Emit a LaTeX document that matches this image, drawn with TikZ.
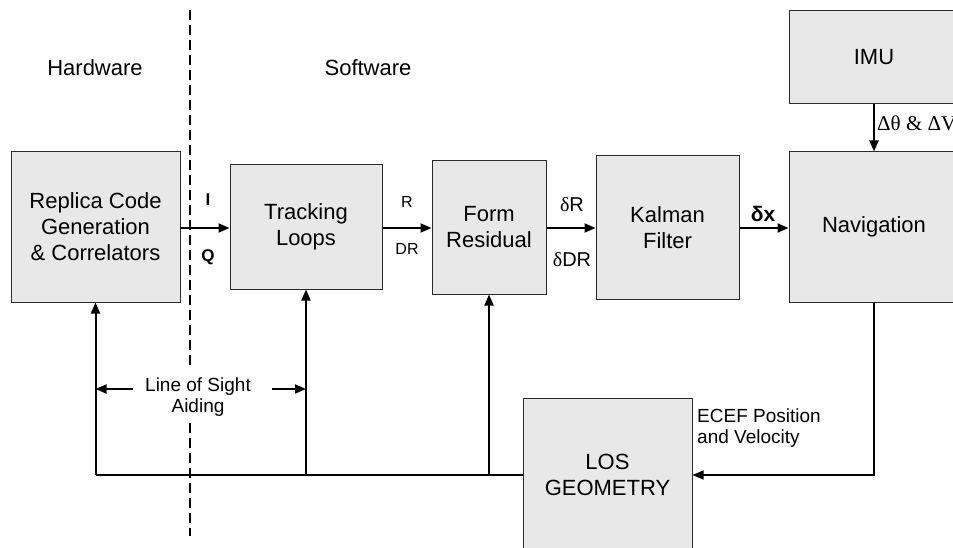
\documentclass[tikz,border=0pt]{standalone}
\usepackage{fontspec}
\setmainfont{Liberation Sans}
\newfontfamily\serifsym{Liberation Serif}
\usetikzlibrary{arrows.meta}

\definecolor{boxfill}{HTML}{E8E8E8}
\definecolor{boxline}{HTML}{2A2A2A}

\tikzset{
  blockbox/.style={draw=boxline, line width=1pt, fill=boxfill, inner sep=0pt,
    align=center, font=\fontsize{22}{26}\selectfont},
  sigtext/.style={inner sep=0pt, font=\fontsize{16}{20}\selectfont},
  sidetext/.style={inner sep=0pt, align=center, font=\fontsize{19}{21}\selectfont},
  headtext/.style={inner sep=0pt, font=\fontsize{22}{26}\selectfont},
  thickarrow/.style={line width=2pt, -{Triangle[length=11pt,width=9pt]}},
  thinline/.style={line width=1.3pt},
  thinarrow/.style={line width=1.3pt, -{Triangle[length=11pt,width=9pt]}},
  boundary/.style={line width=2pt, dash pattern=on 10pt off 5pt}
}

\begin{document}
\begin{tikzpicture}[x=1pt, y=-1pt]
\useasboundingbox (0,0) rectangle (953,548);
\clip (0,0) rectangle (953,548);

% hardware / software boundary
\draw[boundary] (190,10) -- (190,367);
\draw[boundary] (190,423) -- (190,536);

\node[headtext] (hw) at (95,68) {Hardware};
\node[headtext] (sw) at (368,68) {Software};

% processing blocks
\node[blockbox, minimum width=169pt, minimum height=150pt] (rep) at (95.5,227)
  {Replica Code\\Generation\\\& Correlators};
\node[blockbox, minimum width=152pt, minimum height=124pt] (trk) at (306,227)
  {Tracking\\Loops};
\node[blockbox, minimum width=114pt, minimum height=133pt] (res) at (489,227.5)
  {Form\\Residual};
\node[blockbox, minimum width=143pt, minimum height=143pt] (kal) at (667.5,227.5)
  {Kalman\\Filter};
\node[blockbox, minimum width=170pt, minimum height=150pt] (nav) at (874,227)
  {Navigation};
\node[blockbox, minimum width=170pt, minimum height=93pt] (imu) at (874,57.5)
  {IMU};
\node[blockbox, minimum width=169pt, minimum height=154pt] (los) at (607.5,475)
  {LOS\\GEOMETRY};

% forward signal path
\draw[thickarrow] (rep.east |- 0,228) -- (trk.west |- 0,228);
\draw[thickarrow] (trk.east |- 0,228) -- (res.west |- 0,228);
\draw[thickarrow] (res.east |- 0,228) -- (kal.west |- 0,228);
\draw[thickarrow] (kal.east |- 0,228) -- (nav.west |- 0,228);
\draw[thickarrow] (imu.south) -- (nav.north);

\node[sigtext, font=\fontsize{17}{20}\selectfont\bfseries] (lblI) at (208,200) {I};
\node[sigtext, font=\fontsize{17}{20}\selectfont\bfseries] (lblQ) at (208,257) {Q};
\node[sigtext] (lblR) at (407,202) {R};
\node[sigtext] (lblDR) at (407,249) {DR};
\node[sigtext, font=\fontsize{20}{24}\selectfont] (lbldR) at (572,205) {{\serifsym δ}R};
\node[sigtext, font=\fontsize{20}{24}\selectfont] (lbldDR) at (572,260) {{\serifsym δ}DR};
\node[sigtext, font=\fontsize{21}{24}\selectfont\bfseries] (lbldx) at (763,214) {δx};
\node[sigtext, anchor=west, font=\fontsize{21}{24}\selectfont\serifsym] (lbldth) at (877,123)
  {Δθ \& ΔV};

% navigation output to LOS geometry
\draw[thinarrow] (nav.south) |- (los.east);
\node[sidetext, anchor=west, align=left] (ecef) at (697,428)
  {ECEF Position\\and Velocity};

% line-of-sight aiding feedback
\coordinate (fbRep) at (rep.south |- los.west);
\coordinate (fbTrk) at (trk.south |- los.west);
\coordinate (fbRes) at (res.south |- los.west);
\draw[thinline] (los.west) -- (fbRep);
\draw[thickarrow] (fbRep) -- (rep.south);
\draw[thickarrow] (fbTrk) -- (trk.south);
\draw[thickarrow] (fbRes) -- (res.south);

\node[sidetext] (aid) at (198,397) {Line of Sight\\Aiding};
\coordinate (aidL) at (133,389);
\coordinate (aidR) at (272,389);
\draw[thickarrow] (aidL) -- (aidL -| rep.south);
\draw[thickarrow] (aidR) -- (aidR -| trk.south);
\end{tikzpicture}
\end{document}
